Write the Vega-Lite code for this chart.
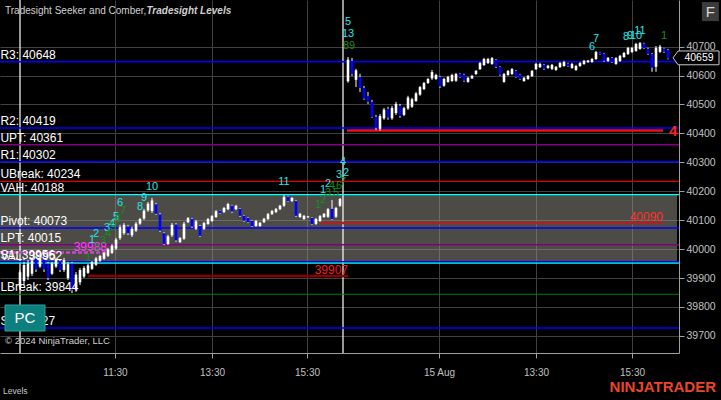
{
"$schema": "https://vega.github.io/schema/vega-lite/v6.json",
"width": 679,
"height": 353,
"autosize": "none",
"padding": {"left": 0, "top": 0, "right": 42, "bottom": 47},
"background": "#000000",
"config": {
"view": {"stroke": null},
"font": "Liberation Sans",
"text": {"font": "Liberation Sans"},
"axis": {"grid": true, "gridColor": "#404040", "gridWidth": 1, "tickColor": "#a0a0a0", "domainColor": "#a0a0a0", "labelColor": "#c0c0c0", "labelFont": "Liberation Sans", "titleOpacity": 0, "tickSize": 5, "labelOverlap": false},
"axisX": {"labelFontSize": 10, "labelPadding": 9},
"axisY": {"labelFontSize": 10.5, "labelPadding": 2}
},
"resolve": {"scale": {"color": "independent", "strokeWidth": "independent", "strokeDash": "independent"}},
"datasets": {
"bars": [
{"k":5,"o":39870,"h":39928,"l":39859,"c":39920},
{"k":6,"o":39890,"h":39956,"l":39876,"c":39945},
{"k":7,"o":39905,"h":39963,"l":39893,"c":39950},
{"k":8,"o":39915,"h":39970,"l":39907,"c":39960},
{"k":9,"o":39968,"h":39976,"l":39921,"c":39930},
{"k":10,"o":39940,"h":39970,"l":39935,"c":39965},
{"k":11,"o":39975,"h":39980,"l":39921,"c":39930},
{"k":12,"o":39950,"h":39956,"l":39893,"c":39900},
{"k":13,"o":39915,"h":39956,"l":39911,"c":39950},
{"k":14,"o":39940,"h":39970,"l":39935,"c":39965},
{"k":15,"o":39958,"h":39963,"l":39921,"c":39928},
{"k":16,"o":39928,"h":39970,"l":39921,"c":39962},
{"k":17,"o":39900,"h":39956,"l":39893,"c":39948},
{"k":18,"o":39950,"h":39956,"l":39848,"c":39858},
{"k":19,"o":39860,"h":39921,"l":39852,"c":39912},
{"k":20,"o":39885,"h":39935,"l":39876,"c":39928},
{"k":21,"o":39905,"h":39942,"l":39900,"c":39935},
{"k":22,"o":39918,"h":39949,"l":39914,"c":39944},
{"k":23,"o":39932,"h":39959,"l":39928,"c":39955},
{"k":24,"o":39946,"h":39973,"l":39942,"c":39968},
{"k":25,"o":39960,"h":39980,"l":39956,"c":39976},
{"k":26,"o":39967,"h":39990,"l":39963,"c":39986},
{"k":27,"o":39977,"h":40004,"l":39973,"c":39999},
{"k":28,"o":39987,"h":40018,"l":39983,"c":40012},
{"k":29,"o":40002,"h":40039,"l":39997,"c":40033},
{"k":30,"o":40038,"h":40084,"l":40032,"c":40076},
{"k":31,"o":40055,"h":40090,"l":40049,"c":40084},
{"k":32,"o":40078,"h":40084,"l":40049,"c":40055},
{"k":33,"o":40048,"h":40077,"l":40042,"c":40070},
{"k":34,"o":40064,"h":40094,"l":40059,"c":40088},
{"k":35,"o":40088,"h":40108,"l":40084,"c":40104},
{"k":36,"o":40106,"h":40139,"l":40101,"c":40133},
{"k":37,"o":40134,"h":40163,"l":40129,"c":40157},
{"k":38,"o":40132,"h":40177,"l":40125,"c":40168},
{"k":39,"o":40155,"h":40160,"l":40118,"c":40122},
{"k":40,"o":40120,"h":40125,"l":40059,"c":40064},
{"k":41,"o":40055,"h":40059,"l":40014,"c":40018},
{"k":42,"o":40018,"h":40049,"l":40014,"c":40044},
{"k":43,"o":40048,"h":40090,"l":40042,"c":40084},
{"k":44,"o":40085,"h":40090,"l":40025,"c":40030},
{"k":45,"o":40024,"h":40042,"l":40021,"c":40038},
{"k":46,"o":40036,"h":40094,"l":40032,"c":40088},
{"k":47,"o":40093,"h":40111,"l":40090,"c":40107},
{"k":48,"o":40104,"h":40108,"l":40073,"c":40078},
{"k":49,"o":40070,"h":40101,"l":40066,"c":40096},
{"k":50,"o":40080,"h":40084,"l":40042,"c":40046},
{"k":51,"o":40070,"h":40094,"l":40066,"c":40090},
{"k":52,"o":40087,"h":40108,"l":40084,"c":40104},
{"k":53,"o":40097,"h":40118,"l":40094,"c":40114},
{"k":54,"o":40111,"h":40135,"l":40108,"c":40131},
{"k":55,"o":40133,"h":40135,"l":40122,"c":40125},
{"k":56,"o":40128,"h":40146,"l":40125,"c":40142},
{"k":57,"o":40138,"h":40160,"l":40135,"c":40156},
{"k":58,"o":40150,"h":40153,"l":40125,"c":40130},
{"k":59,"o":40138,"h":40153,"l":40135,"c":40150},
{"k":60,"o":40139,"h":40142,"l":40111,"c":40115},
{"k":61,"o":40115,"h":40118,"l":40094,"c":40098},
{"k":62,"o":40108,"h":40111,"l":40090,"c":40093},
{"k":63,"o":40098,"h":40101,"l":40077,"c":40080},
{"k":64,"o":40080,"h":40101,"l":40077,"c":40097},
{"k":65,"o":40080,"h":40094,"l":40077,"c":40091},
{"k":66,"o":40093,"h":40108,"l":40090,"c":40105},
{"k":67,"o":40104,"h":40125,"l":40101,"c":40121},
{"k":68,"o":40121,"h":40135,"l":40118,"c":40132},
{"k":69,"o":40128,"h":40142,"l":40125,"c":40139},
{"k":70,"o":40138,"h":40153,"l":40135,"c":40150},
{"k":71,"o":40150,"h":40187,"l":40146,"c":40180},
{"k":72,"o":40181,"h":40184,"l":40163,"c":40166},
{"k":73,"o":40166,"h":40180,"l":40163,"c":40177},
{"k":74,"o":40166,"h":40170,"l":40111,"c":40115},
{"k":75,"o":40111,"h":40125,"l":40108,"c":40122},
{"k":76,"o":40104,"h":40118,"l":40101,"c":40115},
{"k":77,"o":40110,"h":40115,"l":40108,"c":40113},
{"k":78,"o":40108,"h":40111,"l":40084,"c":40087},
{"k":79,"o":40087,"h":40108,"l":40084,"c":40104},
{"k":80,"o":40097,"h":40118,"l":40094,"c":40114},
{"k":81,"o":40111,"h":40125,"l":40108,"c":40122},
{"k":82,"o":40112,"h":40142,"l":40108,"c":40138},
{"k":83,"o":40139,"h":40170,"l":40101,"c":40104},
{"k":84,"o":40112,"h":40146,"l":40108,"c":40142},
{"k":85,"o":40150,"h":40177,"l":40146,"c":40173},
{"k":87,"o":40580,"h":40664,"l":40575,"c":40655},
{"k":88,"o":40650,"h":40661,"l":40599,"c":40605},
{"k":89,"o":40585,"h":40623,"l":40560,"c":40618},
{"k":90,"o":40595,"h":40606,"l":40543,"c":40557},
{"k":91,"o":40557,"h":40564,"l":40516,"c":40520},
{"k":92,"o":40530,"h":40543,"l":40502,"c":40509},
{"k":93,"o":40509,"h":40516,"l":40454,"c":40457},
{"k":94,"o":40457,"h":40464,"l":40412,"c":40419},
{"k":95,"o":40416,"h":40467,"l":40409,"c":40460},
{"k":96,"o":40452,"h":40488,"l":40447,"c":40482},
{"k":97,"o":40485,"h":40492,"l":40447,"c":40455},
{"k":98,"o":40452,"h":40495,"l":40447,"c":40488},
{"k":99,"o":40470,"h":40509,"l":40464,"c":40502},
{"k":100,"o":40495,"h":40502,"l":40454,"c":40460},
{"k":101,"o":40464,"h":40492,"l":40460,"c":40487},
{"k":102,"o":40486,"h":40530,"l":40481,"c":40524},
{"k":103,"o":40492,"h":40523,"l":40488,"c":40518},
{"k":104,"o":40512,"h":40543,"l":40509,"c":40538},
{"k":105,"o":40534,"h":40564,"l":40530,"c":40560},
{"k":106,"o":40553,"h":40578,"l":40550,"c":40574},
{"k":107,"o":40574,"h":40592,"l":40571,"c":40588},
{"k":108,"o":40590,"h":40619,"l":40585,"c":40612},
{"k":109,"o":40588,"h":40606,"l":40585,"c":40602},
{"k":110,"o":40595,"h":40599,"l":40557,"c":40562},
{"k":111,"o":40565,"h":40592,"l":40561,"c":40588},
{"k":112,"o":40578,"h":40599,"l":40575,"c":40595},
{"k":113,"o":40581,"h":40606,"l":40578,"c":40602},
{"k":114,"o":40582,"h":40609,"l":40578,"c":40605},
{"k":115,"o":40606,"h":40609,"l":40592,"c":40595},
{"k":116,"o":40602,"h":40606,"l":40578,"c":40582},
{"k":117,"o":40578,"h":40595,"l":40575,"c":40592},
{"k":118,"o":40590,"h":40602,"l":40588,"c":40599},
{"k":119,"o":40605,"h":40619,"l":40602,"c":40616},
{"k":120,"o":40622,"h":40647,"l":40619,"c":40643},
{"k":121,"o":40636,"h":40661,"l":40633,"c":40657},
{"k":122,"o":40643,"h":40661,"l":40640,"c":40657},
{"k":123,"o":40640,"h":40664,"l":40637,"c":40660},
{"k":124,"o":40654,"h":40657,"l":40626,"c":40630},
{"k":125,"o":40630,"h":40633,"l":40599,"c":40603},
{"k":126,"o":40578,"h":40609,"l":40575,"c":40605},
{"k":127,"o":40602,"h":40619,"l":40599,"c":40616},
{"k":128,"o":40605,"h":40626,"l":40602,"c":40622},
{"k":129,"o":40616,"h":40619,"l":40592,"c":40595},
{"k":130,"o":40603,"h":40606,"l":40585,"c":40588},
{"k":131,"o":40581,"h":40595,"l":40578,"c":40592},
{"k":132,"o":40588,"h":40602,"l":40585,"c":40599},
{"k":133,"o":40598,"h":40619,"l":40595,"c":40616},
{"k":134,"o":40622,"h":40644,"l":40619,"c":40640},
{"k":135,"o":40629,"h":40644,"l":40626,"c":40640},
{"k":136,"o":40637,"h":40640,"l":40619,"c":40623},
{"k":137,"o":40626,"h":40637,"l":40623,"c":40634},
{"k":138,"o":40623,"h":40640,"l":40619,"c":40637},
{"k":139,"o":40619,"h":40633,"l":40616,"c":40630},
{"k":140,"o":40629,"h":40647,"l":40626,"c":40643},
{"k":141,"o":40633,"h":40651,"l":40630,"c":40647},
{"k":142,"o":40641,"h":40644,"l":40630,"c":40633},
{"k":143,"o":40626,"h":40644,"l":40623,"c":40640},
{"k":144,"o":40619,"h":40637,"l":40616,"c":40633},
{"k":145,"o":40633,"h":40647,"l":40630,"c":40643},
{"k":146,"o":40640,"h":40654,"l":40637,"c":40651},
{"k":147,"o":40646,"h":40654,"l":40644,"c":40652},
{"k":148,"o":40647,"h":40661,"l":40644,"c":40657},
{"k":149,"o":40657,"h":40685,"l":40654,"c":40681},
{"k":150,"o":40680,"h":40682,"l":40671,"c":40673},
{"k":151,"o":40675,"h":40678,"l":40647,"c":40651},
{"k":152,"o":40650,"h":40664,"l":40647,"c":40661},
{"k":153,"o":40661,"h":40664,"l":40644,"c":40647},
{"k":154,"o":40640,"h":40664,"l":40637,"c":40660},
{"k":155,"o":40650,"h":40671,"l":40647,"c":40668},
{"k":156,"o":40664,"h":40682,"l":40661,"c":40678},
{"k":157,"o":40674,"h":40699,"l":40671,"c":40695},
{"k":158,"o":40681,"h":40699,"l":40678,"c":40695},
{"k":159,"o":40685,"h":40713,"l":40682,"c":40709},
{"k":160,"o":40692,"h":40716,"l":40689,"c":40712},
{"k":161,"o":40710,"h":40713,"l":40692,"c":40695},
{"k":162,"o":40692,"h":40696,"l":40671,"c":40674},
{"k":163,"o":40674,"h":40678,"l":40613,"c":40627},
{"k":164,"o":40630,"h":40702,"l":40613,"c":40695},
{"k":165,"o":40682,"h":40706,"l":40678,"c":40700},
{"k":166,"o":40693,"h":40696,"l":40678,"c":40682},
{"k":167,"o":40688,"h":40692,"l":40656,"c":40659}
],
"levels": [
{"p":40648,"kind":"R","label":"R3: 40648"},
{"p":40419,"kind":"R","label":"R2: 40419"},
{"p":40361,"kind":"PT","label":"UPT: 40361"},
{"p":40302,"kind":"R","label":"R1: 40302"},
{"p":40234,"kind":"UB","label":"UBreak: 40234"},
{"p":40188,"kind":"VA","label":"VAH: 40188"},
{"p":40073,"kind":"R","label":"Pivot: 40073"},
{"p":40015,"kind":"PT","label":"LPT: 40015"},
{"p":39956,"kind":"R","label":"S1: 39956"},
{"p":39952,"kind":"VA","label":"VAL: 39952"},
{"p":39844,"kind":"LB","label":"LBreak: 39844"},
{"p":39727,"kind":"R","label":"S2: 39727"}
],
"zones": [
{"k0":0,"k1":26.75,"p":39988,"kind":"mag","label":"39988"},
{"k0":22,"k1":87,"p":39907,"kind":"dr","label":"39907"},
{"k0":80,"k1":165.75,"p":40090,"kind":"br","label":"40090"},
{"k0":86.75,"k1":165.75,"p":40410,"kind":"rd","label":"4"}
],
"counts": [
{"k":23,"p":40032,"t":"1","g":"c"},
{"k":24,"p":40052,"t":"2","g":"c"},
{"k":26.75,"p":40073,"t":"3","g":"c"},
{"k":28,"p":40087,"t":"4","g":"c"},
{"k":29,"p":40111,"t":"5","g":"c"},
{"k":30,"p":40160,"t":"6","g":"c"},
{"k":35,"p":40146,"t":"8","g":"c"},
{"k":36,"p":40177,"t":"9","g":"c"},
{"k":38,"p":40215,"t":"10","g":"c"},
{"k":71,"p":40232,"t":"11","g":"c"},
{"k":80.75,"p":40205,"t":"1","g":"c"},
{"k":82,"p":40225,"t":"2","g":"c"},
{"k":84.75,"p":40256,"t":"3","g":"c"},
{"k":86.5,"p":40262,"t":"2","g":"c"},
{"k":85.75,"p":40301,"t":"4","g":"c"},
{"k":87,"p":40785,"t":"5","g":"c"},
{"k":87,"p":40744,"t":"13","g":"c"},
{"k":148,"p":40697,"t":"6","g":"c"},
{"k":149,"p":40727,"t":"7","g":"c"},
{"k":156.5,"p":40734,"t":"8","g":"c"},
{"k":157.5,"p":40737,"t":"9","g":"c"},
{"k":159,"p":40737,"t":"10","g":"c"},
{"k":160,"p":40754,"t":"11","g":"c"},
{"k":22,"p":39970,"t":"1","g":"g"},
{"k":24.25,"p":40001,"t":"2","g":"g"},
{"k":25.75,"p":40028,"t":"3","g":"g"},
{"k":27,"p":40052,"t":"4","g":"g"},
{"k":28.25,"p":40077,"t":"5","g":"g"},
{"k":29.5,"p":40104,"t":"6","g":"g"},
{"k":30.75,"p":40132,"t":"7","g":"g"},
{"k":79.5,"p":40153,"t":"1","g":"g"},
{"k":80.75,"p":40170,"t":"2","g":"g"},
{"k":82,"p":40194,"t":"3","g":"g"},
{"k":83,"p":40218,"t":"4","g":"g"},
{"k":84,"p":40194,"t":"5","g":"g"},
{"k":84.75,"p":40218,"t":"6","g":"g"},
{"k":85.75,"p":40232,"t":"7","g":"g"},
{"k":87.25,"p":40702,"t":"89","g":"g"},
{"k":166,"p":40737,"t":"1","g":"g"}
],
"va": [{"lo":39952,"hi":40188}],
"sessions": [{"k":5},{"k":85.75}]
},
"layer": [
{
"data": {"name": "bars"},
"mark": {"type": "rule", "opacity": 0},
"encoding": {
"x": {"field": "k", "type": "quantitative", "scale": {"domain": [0, 169.75], "nice": false, "zero": false},
"axis": {"orient": "bottom", "values": [28.75, 53, 76.75, 109.75, 134, 158], "tickCount": 30, "labelExpr": "datum.value == 28.75 ? '11:30' : datum.value == 53 ? '13:30' : datum.value == 76.75 ? '15:30' : datum.value == 109.75 ? '15 Aug' : datum.value == 134 ? '13:30' : '15:30'", "title": null, "grid": true, "gridColor": "#404040", "gridWidth": 1, "tickSize": 5, "tickColor": "#a0a0a0", "domainColor": "#a0a0a0", "labelColor": "#c0c0c0", "labelFontSize": 10, "labelPadding": 9, "labelOverlap": false, "labelFont": "Liberation Sans"}},
"y": {"field": "h", "type": "quantitative", "scale": {"domain": [39641, 40861], "nice": false, "zero": false},
"axis": {"orient": "right", "values": [39700,39800,39900,40000,40100,40200,40300,40400,40500,40600,40700], "tickCount": 30, "format": "d", "title": null, "grid": true, "gridColor": "#404040", "gridWidth": 1, "tickSize": 5, "tickColor": "#a0a0a0", "domainColor": "#a0a0a0", "labelColor": "#c0c0c0", "labelFontSize": 10.5, "labelPadding": 2, "labelOverlap": false, "labelFont": "Liberation Sans"}}
}
},
{
"data": {"name": "va"},
"mark": {"type": "rect", "color": "#9a968c", "opacity": 0.5},
"encoding": {
"x": {"datum": 0, "type": "quantitative", "scale": {"domain": [0, 169.75], "nice": false, "zero": false}},
"x2": {"datum": 169.25},
"y": {"field": "lo", "type": "quantitative", "scale": {"domain": [39641, 40861], "nice": false, "zero": false}},
"y2": {"field": "hi"}
}
},
{
"data": {"name": "sessions"},
"mark": {"type": "rule", "color": "#ffffff", "strokeWidth": 1.2},
"encoding": {
"x": {"field": "k", "type": "quantitative", "scale": {"domain": [0, 169.75], "nice": false, "zero": false}}
}
},
{
"data": {"name": "levels"},
"mark": {"type": "rule"},
"encoding": {
"y": {"field": "p", "type": "quantitative", "scale": {"domain": [39641, 40861], "nice": false, "zero": false}},
"color": {"field": "kind", "type": "nominal", "scale": {"domain": ["R","PT","UB","VA","LB"], "range": ["#0000ff","#800080","#e00000","#00ffff","#008000"]}, "legend": null},
"strokeWidth": {"field": "kind", "type": "nominal", "scale": {"domain": ["R","PT","UB","VA","LB"], "range": [1.5,1.2,1.2,2,1.2]}, "legend": null}
}
},
{
"data": {"name": "zones"},
"mark": {"type": "rule"},
"encoding": {
"x": {"field": "k0", "type": "quantitative", "scale": {"domain": [0, 169.75], "nice": false, "zero": false}},
"x2": {"field": "k1"},
"y": {"field": "p", "type": "quantitative", "scale": {"domain": [39641, 40861], "nice": false, "zero": false}},
"color": {"field": "kind", "type": "nominal", "scale": {"domain": ["mag","dr","br","rd"], "range": ["#c848c8","#8b0000","#a82424","#f01010"]}, "legend": null},
"strokeWidth": {"field": "kind", "type": "nominal", "scale": {"domain": ["mag","dr","br","rd"], "range": [2.5,2.5,2.5,1.6]}, "legend": null},
"strokeDash": {"field": "kind", "type": "nominal", "scale": {"domain": ["mag","dr","br","rd"], "range": [[4,2],[1,0],[1,0],[1,0]]}, "legend": null}
}
},
{
"data": {"name": "bars"},
"mark": {"type": "rule", "color": "#ffffff", "strokeWidth": 1},
"encoding": {
"x": {"field": "k", "type": "quantitative", "scale": {"domain": [0, 169.75], "nice": false, "zero": false}},
"y": {"field": "h", "type": "quantitative", "scale": {"domain": [39641, 40861], "nice": false, "zero": false}},
"y2": {"field": "l"}
}
},
{
"data": {"name": "bars"},
"mark": {"type": "rule", "strokeWidth": 2.6, "strokeCap": "butt"},
"encoding": {
"x": {"field": "k", "type": "quantitative", "scale": {"domain": [0, 169.75], "nice": false, "zero": false}},
"y": {"field": "o", "type": "quantitative", "scale": {"domain": [39641, 40861], "nice": false, "zero": false}},
"y2": {"field": "c"},
"color": {"condition": {"test": "datum.c >= datum.o", "value": "#ffffff"}, "value": "#0000ff"}
}
},
{
"data": {"name": "levels"},
"mark": {"type": "text", "align": "left", "baseline": "alphabetic", "dy": -3, "fontSize": 12, "color": "#ffffff"},
"encoding": {
"x": {"datum": 0.1, "type": "quantitative", "scale": {"domain": [0, 169.75], "nice": false, "zero": false}},
"y": {"field": "p", "type": "quantitative", "scale": {"domain": [39641, 40861], "nice": false, "zero": false}},
"text": {"field": "label"}
}
},
{
"data": {"name": "zones"},
"transform": [{"filter": "datum.kind != 'rd'"}],
"mark": {"type": "text", "align": "right", "baseline": "alphabetic", "dy": -2, "fontSize": 12},
"encoding": {
"x": {"field": "k1", "type": "quantitative", "scale": {"domain": [0, 169.75], "nice": false, "zero": false}},
"y": {"field": "p", "type": "quantitative", "scale": {"domain": [39641, 40861], "nice": false, "zero": false}},
"text": {"field": "label"},
"color": {"field": "kind", "type": "nominal", "scale": {"domain": ["mag","dr","br"], "range": ["#ff40ff","#ff1a1a","#ff3030"]}, "legend": null}
}
},
{
"data": {"name": "zones"},
"transform": [{"filter": "datum.kind == 'rd'"}],
"mark": {"type": "text", "align": "left", "baseline": "middle", "dx": 6, "dy": 1, "fontSize": 15, "fontWeight": "bold", "color": "#ff2020"},
"encoding": {
"x": {"field": "k1", "type": "quantitative", "scale": {"domain": [0, 169.75], "nice": false, "zero": false}},
"y": {"field": "p", "type": "quantitative", "scale": {"domain": [39641, 40861], "nice": false, "zero": false}},
"text": {"field": "label"}
}
},
{
"data": {"name": "counts"},
"mark": {"type": "text", "align": "center", "baseline": "middle", "fontSize": 11},
"encoding": {
"x": {"field": "k", "type": "quantitative", "scale": {"domain": [0, 169.75], "nice": false, "zero": false}},
"y": {"field": "p", "type": "quantitative", "scale": {"domain": [39641, 40861], "nice": false, "zero": false}},
"text": {"field": "t"},
"color": {"field": "g", "type": "nominal", "scale": {"domain": ["c","g"], "range": ["#22e6e6","#1a8c1a"]}, "legend": null}
}
},
{
"data": {"values": [{"t": "Tradesight Seeker and Comber,"}]},
"mark": {"type": "text", "align": "left", "baseline": "middle", "fontSize": 10, "color": "#d0d0d0"},
"encoding": {
"x": {"datum": 1.25, "type": "quantitative", "scale": {"domain": [0, 169.75], "nice": false, "zero": false}},
"y": {"datum": 40823, "type": "quantitative", "scale": {"domain": [39641, 40861], "nice": false, "zero": false}},
"text": {"field": "t"}
}
},
{
"data": {"values": [{"t": "Tradesight Levels"}]},
"mark": {"type": "text", "align": "left", "baseline": "middle", "fontSize": 10, "fontStyle": "italic", "fontWeight": "bold", "color": "#d0d0d0"},
"encoding": {
"x": {"datum": 36.6, "type": "quantitative", "scale": {"domain": [0, 169.75], "nice": false, "zero": false}},
"y": {"datum": 40823, "type": "quantitative", "scale": {"domain": [39641, 40861], "nice": false, "zero": false}},
"text": {"field": "t"}
}
},
{
"data": {"values": [{"t": "© 2024 NinjaTrader, LLC"}]},
"mark": {"type": "text", "align": "left", "baseline": "middle", "fontSize": 9.5, "color": "#d0d0d0"},
"encoding": {
"x": {"datum": 1.25, "type": "quantitative", "scale": {"domain": [0, 169.75], "nice": false, "zero": false}},
"y": {"datum": 39681, "type": "quantitative", "scale": {"domain": [39641, 40861], "nice": false, "zero": false}},
"text": {"field": "t"}
}
},
{
"data": {"values": [{"t": "PC"}]},
"encoding": {
"x": {"datum": 6.25, "type": "quantitative", "scale": {"domain": [0, 169.75], "nice": false, "zero": false}},
"y": {"datum": 39762, "type": "quantitative", "scale": {"domain": [39641, 40861], "nice": false, "zero": false}}
},
"layer": [
{"mark": {"type": "point", "shape": "M -1 -0.65 L 1 -0.65 L 1 0.65 L -1 0.65 Z", "size": 1600, "filled": true, "fill": "#0e7f7f", "stroke": "#2aa3a3", "strokeWidth": 1, "opacity": 1}},
{"mark": {"type": "text", "align": "center", "baseline": "middle", "fontSize": 15, "color": "#ffffff"}, "encoding": {"text": {"field": "t"}}}
]
},
{
"data": {"values": [{"t": "F"}]},
"encoding": {
"x": {"datum": 177.6, "type": "quantitative", "scale": {"domain": [0, 169.75], "nice": false, "zero": false}},
"y": {"datum": 40821, "type": "quantitative", "scale": {"domain": [39641, 40861], "nice": false, "zero": false}}
},
"layer": [
{"mark": {"type": "point", "shape": "M -1 -1.12 L 1 -1.12 L 1 1.12 L -1 1.12 Z", "size": 289, "filled": true, "fill": "#3c3c3c", "opacity": 1}},
{"mark": {"type": "text", "align": "center", "baseline": "middle", "fontSize": 15, "color": "#d8d8d8"}, "encoding": {"text": {"field": "t"}}}
]
},
{
"data": {"values": [{"t": "40659"}]},
"encoding": {
"x": {"datum": 174, "type": "quantitative", "scale": {"domain": [0, 169.75], "nice": false, "zero": false}},
"y": {"datum": 40661, "type": "quantitative", "scale": {"domain": [39641, 40861], "nice": false, "zero": false}}
},
"layer": [
{"mark": {"type": "point", "shape": "M -1 0 L -0.78 -0.3 L 1 -0.3 L 1 0.3 L -0.78 0.3 Z", "size": 2116, "filled": true, "fill": "#000000", "stroke": "#c8c8c8", "strokeWidth": 1, "opacity": 1}},
{"mark": {"type": "text", "align": "center", "baseline": "middle", "fontSize": 10.5, "dx": 3, "color": "#ffffff"}, "encoding": {"text": {"field": "t"}}}
]
},
{
"data": {"values": [{"t": "Levels"}]},
"mark": {"type": "text", "align": "left", "baseline": "middle", "fontSize": 8.5, "color": "#c8c8c8"},
"encoding": {
"x": {"datum": 0.75, "type": "quantitative", "scale": {"domain": [0, 169.75], "nice": false, "zero": false}},
"y": {"datum": 39510, "type": "quantitative", "scale": {"domain": [39641, 40861], "nice": false, "zero": false}},
"text": {"field": "t"}
}
},
{
"data": {"values": [{"t": "NINJATRADER"}]},
"mark": {"type": "text", "align": "right", "baseline": "middle", "fontSize": 15, "fontWeight": "bold", "color": "#e8462a"},
"encoding": {
"x": {"datum": 179, "type": "quantitative", "scale": {"domain": [0, 169.75], "nice": false, "zero": false}},
"y": {"datum": 39525, "type": "quantitative", "scale": {"domain": [39641, 40861], "nice": false, "zero": false}},
"text": {"field": "t"}
}
}
]
}
